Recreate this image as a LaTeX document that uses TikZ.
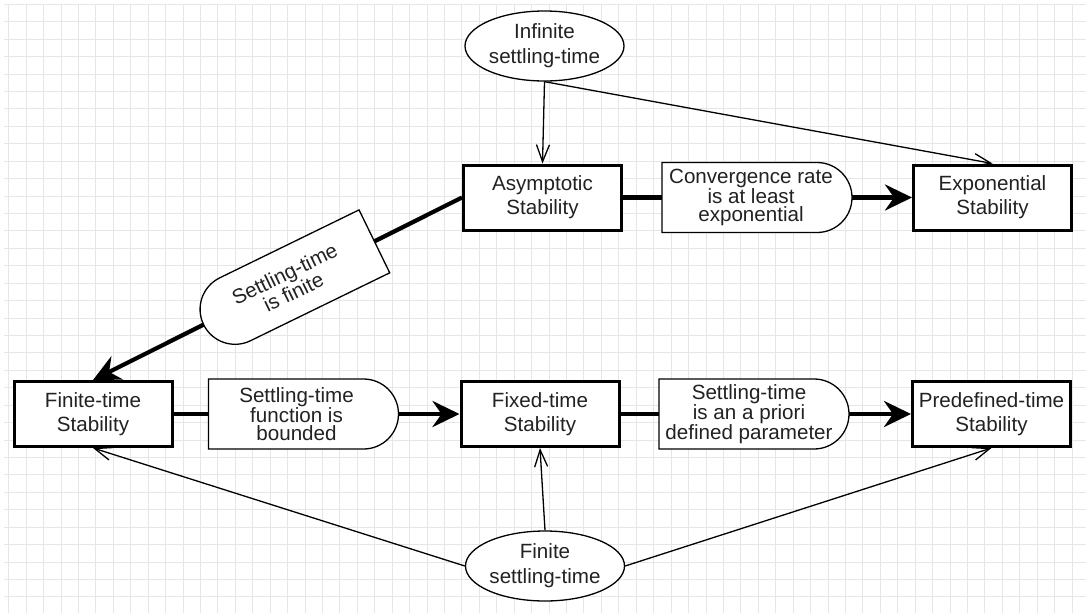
\documentclass[tikz,border=0pt]{standalone}
\usepackage{fontspec}
\setmainfont{Liberation Sans}
\usetikzlibrary{arrows.meta,shapes.geometric}
\newcommand\myboxfont{\fontsize{20.6pt}{24pt}\selectfont}
\newcommand\mylblfont{\fontsize{20.6pt}{18pt}\selectfont}
\newcommand\myovalfont{\fontsize{20.6pt}{25pt}\selectfont}
\definecolor{txt}{HTML}{222222}
\definecolor{gridc}{HTML}{E6E6E6}
\begin{document}
\begin{tikzpicture}[x=1pt,y=-1pt,
  box/.style={draw, line width=3pt, fill=white, minimum width=158pt, minimum height=65pt, inner sep=0pt, align=center, font=\myboxfont, text=txt},
  oval/.style={ellipse, draw, line width=1.3pt, fill=white, minimum width=159pt, minimum height=70pt, inner sep=0pt, align=center, font=\myovalfont, text=txt},
  lbl/.style={minimum width=190pt, minimum height=70pt, inner sep=0pt},
  lbltext/.style={align=center, font=\mylblfont, text=txt, inner sep=0pt},
  lblline/.style={draw, line width=1.3pt, fill=white},
  thickarr/.style={line width=4.2pt, -{Stealth[length=27pt,width=26pt,inset=9pt]}},
  thickline/.style={line width=4.2pt},
  thinarr/.style={line width=1.3pt, -{Straight Barb[length=17pt,width=13pt]}},
]
\useasboundingbox (0,0) rectangle (1086,613);
\fill[white] (0,0) rectangle (1086,613);
% grid
\foreach \i in {0,...,61} {\draw[gridc, line width=1pt] ({8.8+17.43*\i},4) -- ({8.8+17.43*\i},613);}
\foreach \j in {0,...,34} {\draw[gridc, line width=1pt] (4,{4.3+17.43*\j}) -- (1086,{4.3+17.43*\j});}

% ovals
\node[oval] (topov) at (544.5,46) {Infinite\\settling-time};
\node[oval] (botov) at (545,566) {Finite\\settling-time};

% boxes
\node[box] (asym) at (542.5,197.5) {Asymptotic\\Stability};
\node[box] (expo) at (992.5,197.5) {Exponential\\Stability};
\node[box] (fin) at (93,414) {Finite-time\\Stability};
\node[box] (fix) at (540,414) {Fixed-time\\Stability};
\node[box] (pred) at (991.5,414) {Predefined-time\\Stability};

% label shapes (right-rounded)
\node[lbl] (conv) at (757,197.5) {};
\node[lbl] (stfb) at (303.5,414) {};
\node[lbl] (spri) at (754,414) {};
\foreach \n in {conv,stfb,spri} {
  \begin{scope}[shift={(\n.center)}]
    \draw[lblline] (-95,-35) -- (60,-35) .. controls (79.33,-35) and (95,-19.33) .. (95,0)
      .. controls (95,19.33) and (79.33,35) .. (60,35) -- (-95,35) -- cycle;
  \end{scope}
}
\node[lbltext] (convt) at ([xshift=-6pt]conv.center) {Convergence rate\\is at least\\exponential};
\node[lbltext] (stfbt) at ([xshift=-7pt]stfb.center) {Settling-time\\function is\\bounded};
\node[lbltext] (sprit) at ([xshift=-5pt]spri.center) {Settling-time\\is an a priori\\defined parameter};

% rotated label (left-rounded)
\node[lbl, rotate=26] (sfin) at (289,283) {};
\begin{scope}[shift={(sfin.center)}, rotate=26]
  \draw[lblline] (95,-35) -- (-60,-35) .. controls (-79.33,-35) and (-95,-19.33) .. (-95,0)
    .. controls (-95,19.33) and (-79.33,35) .. (-60,35) -- (95,35) -- cycle;
\end{scope}
\node[lbltext, rotate=26] (sfint) at (sfin.center) {Settling-time\\is finite};

% thick connectors
\draw[thickline] (asym.east) -- (conv.west);
\draw[thickarr] (conv.east) -- (expo.west);
\draw[thickline] (fin.east) -- (stfb.west);
\draw[thickarr] (stfb.east) -- (fix.west);
\draw[thickline] (fix.east) -- (spri.west);
\draw[thickarr] (spri.east) -- (pred.west);
\draw[thickline] (asym.west) -- (sfin.east);
\draw[thickarr] (sfin.west) -- (fin.north);

% thin connectors
\draw[thinarr] (topov.south) -- (asym.north);
\draw[thinarr] (topov.south) -- (expo.north);
\draw[thinarr] (botov.north) -- (fix.south);
\draw[thinarr] (botov.west) -- (fin.south);
\draw[thinarr] (botov.east) -- (pred.south);
\end{tikzpicture}
\end{document}
